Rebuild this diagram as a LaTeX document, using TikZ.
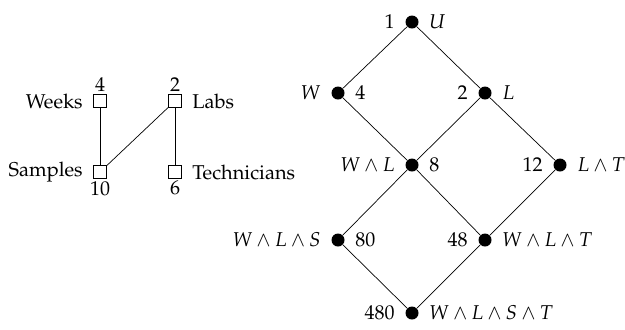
\documentclass[tikz,border=0pt]{standalone}
\usepackage[T1]{fontenc}
\usepackage{mathpazo}
\usepackage{amssymb}
\begin{document}
\begin{tikzpicture}[x=0.5pt,y=-0.5pt,
  dot/.style={circle,fill=black,inner sep=0pt,minimum size=6.5pt},
  box/.style={draw,rectangle,inner sep=0pt,minimum size=6.5pt,line width=0.4pt},
  edge/.style={line width=0.35pt},
  every label/.style={inner sep=1pt},
  lab/.style={label distance=4pt}]
\useasboundingbox (0,0) rectangle (625,329);
% left: factor graph of the four attributes
\node[box,label={[inner sep=1pt]above:$4$},label={[lab]left:Weeks}] (wk) at (100,101) {};
\node[box,label={[inner sep=1pt]above:$2$},label={[lab]right:Labs}] (lb) at (175,101) {};
\node[box,label={[inner sep=1pt]below:$10$},label={[lab]left:Samples}] (sm) at (100,172) {};
\node[box,label={[inner sep=1pt]below:$6$},label={[lab]right:Technicians}] (tc) at (175,172) {};
\draw[edge] (wk) -- (sm);
\draw[edge] (lb) -- (sm);
\draw[edge] (lb) -- (tc);
% right: lattice of joins
\node[dot,label={[lab]left:$1$},label={[lab]right:$U$}] (u) at (412,22) {};
\node[dot,label={[lab]left:$W$},label={[lab]right:$4$}] (w) at (338,93) {};
\node[dot,label={[lab]left:$2$},label={[lab]right:$L$}] (l) at (485,93) {};
\node[dot,label={[lab]left:$W\wedge L$},label={[lab]right:$8$}] (wl) at (412,165) {};
\node[dot,label={[lab]left:$12$},label={[lab]right:$L\wedge T$}] (lt) at (560,165) {};
\node[dot,label={[lab]left:$W\wedge L\wedge S$},label={[lab]right:$80$}] (wls) at (338,240) {};
\node[dot,label={[lab]left:$48$},label={[lab]right:$W\wedge L\wedge T$}] (wlt) at (485,240) {};
\node[dot,label={[lab]left:$480$},label={[lab]right:$W\wedge L\wedge S\wedge T$}] (all) at (412,313) {};
\draw[edge] (u) -- (w);
\draw[edge] (u) -- (l);
\draw[edge] (w) -- (wl);
\draw[edge] (l) -- (wl);
\draw[edge] (l) -- (lt);
\draw[edge] (wl) -- (wls);
\draw[edge] (wl) -- (wlt);
\draw[edge] (lt) -- (wlt);
\draw[edge] (wls) -- (all);
\draw[edge] (wlt) -- (all);
\end{tikzpicture}
\end{document}
